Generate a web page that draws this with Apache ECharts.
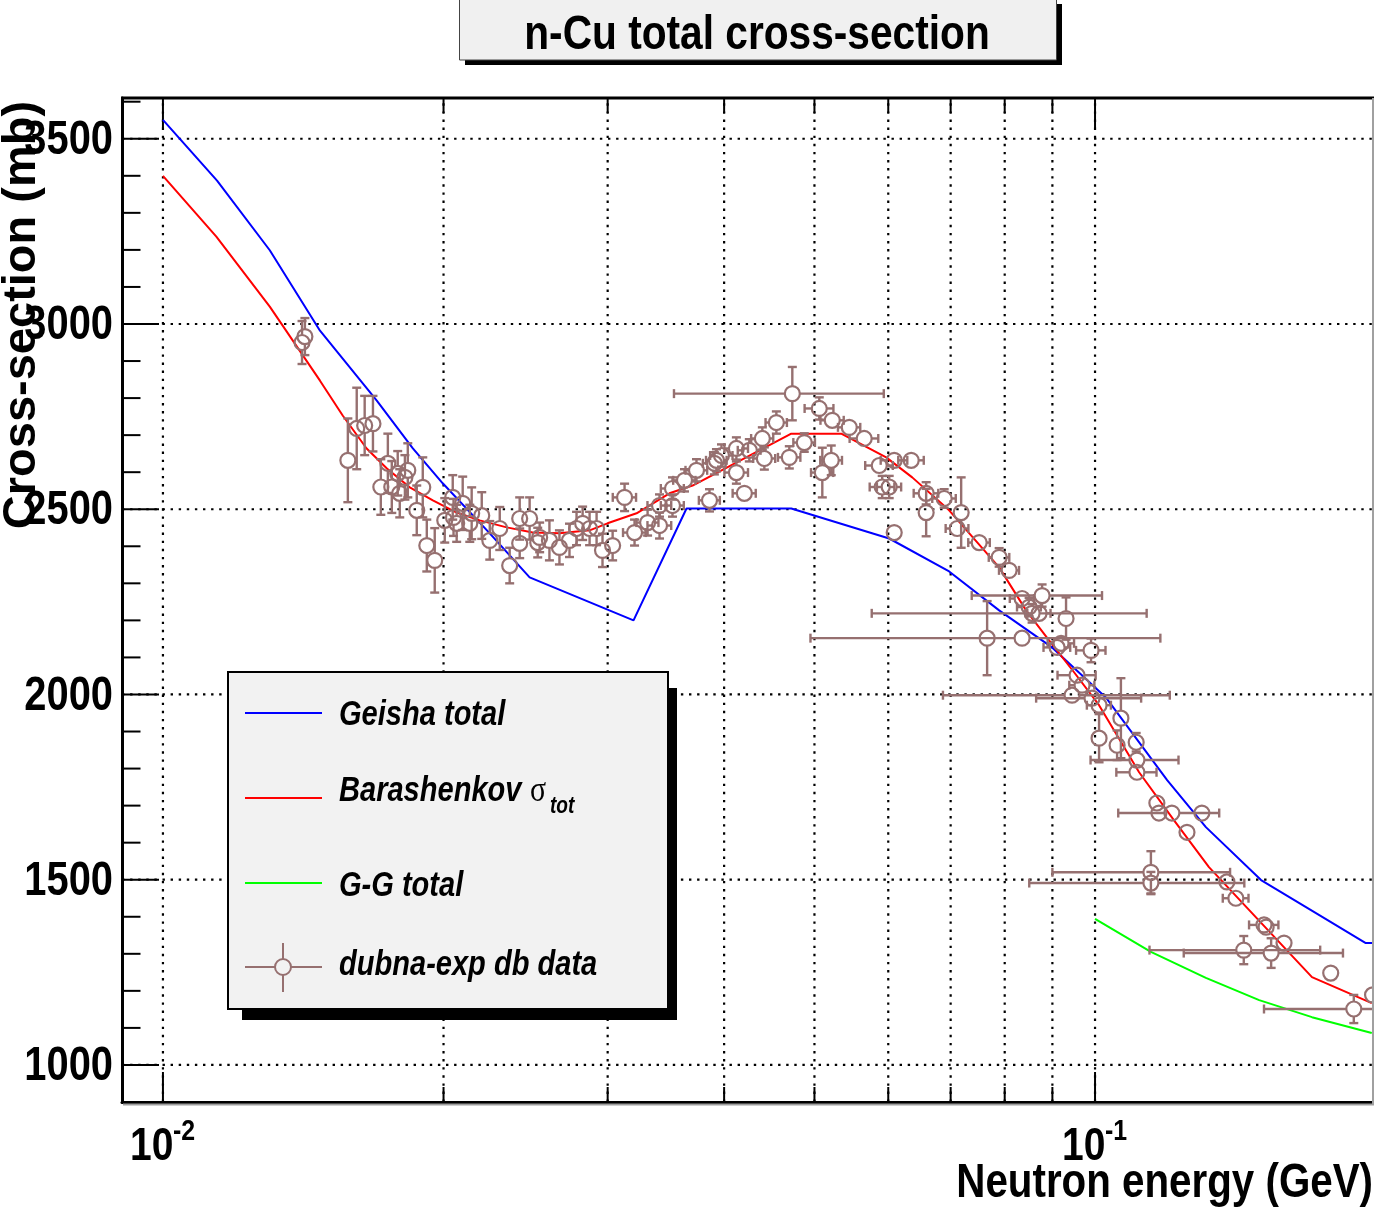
<!DOCTYPE html>
<html>
<head>
<meta charset="utf-8">
<title>n-Cu total cross-section</title>
<script src="https://cdn.jsdelivr.net/npm/echarts@6/dist/echarts.min.js"></script>
<style>
  html, body { margin: 0; padding: 0; background: #ffffff; }
  #main { width: 1374px; height: 1207px; }
</style>
</head>
<body>
<div id="main"></div>
<script>
// ---------- fonts ----------
const SANS = "'Liberation Sans', Arial, Helvetica, sans-serif";
const NARROW_X = 0.83;   // horizontal squeeze for the condensed Helvetica look

// ---------- axis ranges ----------
const X_MIN = 0.009038, X_MAX = 0.1992;   // GeV, logarithmic
const Y_MIN = 900, Y_MAX = 3610;          // mb

// ---------- ticks and tick labels ----------
const xGridTicks = [0.01, 0.02, 0.03, 0.04, 0.05, 0.06, 0.07, 0.08, 0.09, 0.1];
const xMajorTicks = [0.01, 0.1];
const xLabelExponents = ['-2', '-1'];
const yTicks = [900, 1000, 1100, 1200, 1300, 1400, 1500, 1600, 1700, 1800, 1900,
                2000, 2100, 2200, 2300, 2400, 2500, 2600, 2700, 2800, 2900,
                3000, 3100, 3200, 3300, 3400, 3500, 3600];
const yMajorTicks = [1000, 1500, 2000, 2500, 3000, 3500];
const yTickLabels = ['1000', '1500', '2000', '2500', '3000', '3500'];

// ---------- Geisha total ----------
const energyGeisha = [0.01, 0.01143, 0.01302, 0.01474, 0.01696, 0.01854, 0.01996, 0.02242,
  0.02474, 0.03198, 0.03645, 0.04722, 0.06014, 0.06974, 0.07891, 0.08993, 0.1027,
  0.1195, 0.1315, 0.1507, 0.1726, 0.1952, 0.1992];
const sigmaGeisha = [3551, 3387, 3199, 2982, 2793, 2664, 2570, 2435,
  2316, 2200, 2502, 2502, 2421, 2332, 2227, 2127, 1992,
  1769, 1642, 1499, 1410, 1329, 1329];

// ---------- Barashenkov sigma_tot ----------
const energyBarash = [0.01, 0.01141, 0.01302, 0.01474, 0.01559, 0.01654, 0.01739, 0.01840,
  0.01948, 0.02066, 0.02187, 0.02338, 0.02493, 0.02663, 0.02869, 0.02999, 0.03222,
  0.03495, 0.03700, 0.04722, 0.05342, 0.05970, 0.06366, 0.06974, 0.07891, 0.08434,
  0.08927, 0.09495, 0.1010, 0.1115, 0.1215, 0.1325, 0.1709, 0.1981];
const sigmaBarash = [3400, 3236, 3047, 2847, 2753, 2664, 2610, 2559,
  2524, 2491, 2470, 2451, 2437, 2435, 2443, 2462, 2489,
  2543, 2564, 2704, 2704, 2640, 2586, 2497, 2343, 2227,
  2146, 2060, 1971, 1790, 1661, 1534, 1237, 1167];

// ---------- G-G total ----------
const energyGG = [0.1, 0.1148, 0.1315, 0.150, 0.1709, 0.1981];
const sigmaGG = [1394, 1305, 1235, 1175, 1129, 1086];

// ---------- dubna-exp db data ----------
const dubnaE = [0.01410, 0.01420, 0.01579, 0.01614, 0.01646, 0.01680, 0.01713, 0.01743,
  0.01760, 0.01786, 0.01795, 0.01818, 0.01831, 0.01872, 0.01900, 0.01919, 0.01957,
  0.02006, 0.02046, 0.02050, 0.02066, 0.02097, 0.02134, 0.02144, 0.02198, 0.02242,
  0.02298, 0.02355, 0.02414, 0.02474, 0.02414, 0.02524, 0.02536, 0.02598, 0.02663,
  0.02730, 0.02778, 0.02820, 0.02869, 0.02919, 0.02962, 0.03037, 0.03128, 0.03206,
  0.03311, 0.03410, 0.03410, 0.03521, 0.03521, 0.03627, 0.03736, 0.03858, 0.03925,
  0.03974, 0.03905, 0.04123, 0.04257, 0.04396, 0.04551, 0.04123, 0.04205, 0.04418,
  0.04699, 0.04876, 0.04734, 0.05060, 0.05225, 0.05449, 0.05654, 0.05212, 0.05098,
  0.05868, 0.06089, 0.06350, 0.05911, 0.06014, 0.06089, 0.06589, 0.06589, 0.06889,
  0.07184, 0.07114, 0.07511, 0.07891, 0.08088, 0.08351, 0.08774, 0.08497, 0.08560,
  0.08709, 0.09309, 0.07660, 0.08351, 0.09195, 0.09105, 0.09902, 0.09565, 0.09684,
  0.09448, 0.09926, 0.1010, 0.1066, 0.1010, 0.1056, 0.1107, 0.1109, 0.1109, 0.1165,
  0.1171, 0.1209, 0.1302, 0.1255, 0.1148, 0.1148, 0.1385, 0.1416, 0.1518, 0.1526,
  0.1595, 0.1444, 0.1545, 0.1790, 0.1895, 0.1985];
const dubnaSigma = [2950, 2966, 2632, 2718, 2726, 2731, 2560, 2624,
  2560, 2597, 2543, 2586, 2605, 2497, 2559, 2402, 2362,
  2470, 2532, 2478, 2462, 2516, 2462, 2489, 2483, 2416,
  2448, 2348, 2475, 2475, 2408, 2410, 2424, 2416, 2397,
  2416, 2448, 2462, 2448, 2448, 2389, 2402, 2532, 2437,
  2464, 2456, 2510, 2510, 2556, 2578, 2605, 2524, 2632,
  2645, 2624, 2664, 2659, 2691, 2734, 2599, 2543, 2637,
  2640, 2680, 2812, 2772, 2740, 2721, 2691, 2632, 2599,
  2618, 2632, 2632, 2560, 2560, 2437, 2543, 2491, 2529,
  2491, 2448, 2410, 2370, 2335, 2259, 2267, 2236, 2219,
  2219, 2205, 2152, 2152, 2138, 2127, 2119, 2052, 2025,
  1998, 1990, 1971, 1936, 1882, 1863, 1871, 1823, 1790, 1707,
  1680, 1680, 1680, 1628, 1520, 1491, 1494, 1450, 1378, 1372,
  1329, 1310, 1302, 1248, 1151, 1189];
const dubnaErrSigma = [58, 50, 113, 110, 80, 75, 75, 80,
  70, 60, 65, 60, 73, 67, 81, 70, 87,
  60, 60, 50, 50, 72, 50, 70, 63, 52,
  58, 48, 57, 57, 40, 40, 40, 54, 46,
  45, 45, 45, 45, 45, 45, 40, 37, 35,
  35, 35, 30, 30, 30, 30, 30, 30, 30,
  30, 30, 30, 30, 30, 30, 30, 20, 30,
  30, 25, 72, 30, 20, 20, 20, 40, 67,
  20, 20, 20, 30, 30, 10, 30, 64, 25,
  95, 20, 20, 25, 20, 20, 30, 25, 25,
  20, 57, 100, 20, 20, 20, 32, 20, 20,
  20, 20, 20, 108, 65, 40, 25, 20, 20, 20,
  20, 20, 20, 15, 57, 30, 15, 20, 20, 15,
  15, 38, 40, 15, 38, 15];
const dubnaErrE = [0, 0, 0, 0, 0, 0, 0, 0,
  0, 0, 0, 0, 0, 0, 0, 0, 0,
  0, 0, 0, 0, 0, 0, 0, 0, 0,
  0, 0, 0, 0, 0, 0, 0, 0, 0,
  0, 0, 0, 0, 0, 0, 0, 0.0009, 0.0009,
  0.0009, 0.0010, 0.0010, 0.0010, 0.0010, 0.0010, 0.0010, 0.0010, 0.0010,
  0.0011, 0.0011, 0.0012, 0.0012, 0.0012, 0.0012, 0.0012, 0.0012, 0.0012,
  0.0013, 0.0013, 0.0120, 0.0018, 0.0015, 0.0015, 0.0020, 0.0014, 0.0014,
  0.0020, 0.0020, 0.0020, 0.0018, 0.0018, 0, 0.0020, 0, 0.0020,
  0, 0.0020, 0.0020, 0.0020, 0.0020, 0.0025, 0.0140, 0.0025, 0.0280,
  0.0025, 0, 0, 0.0340, 0.0030, 0.0030, 0.0036, 0.0045, 0.0030,
  0.0258, 0.0128, 0.0030, 0, 0, 0, 0, 0.0120, 0.0055, 0,
  0, 0.0150, 0, 0, 0.0248, 0.0298, 0, 0.0045, 0.0055, 0,
  0, 0.0300, 0.0300, 0, 0.0377, 0];

// ---------- colours ----------
const C_GEISHA = '#0000ff', C_BARASH = '#ff0000', C_GG = '#00ff00', C_DATA = '#967070';

const pairs = (xs, ys) => xs.map((x, i) => [x, ys[i]]);

const GRID_DASH = [2.4, 5.7];

// x-axis grid lines and ticks (bottom and top edges of the frame)
function renderXTick(params, api) {
  const v = api.value(0);
  const b = api.coord([v, Y_MIN]);
  const t = api.coord([v, Y_MAX]);
  const len = xMajorTicks.indexOf(v) >= 0 ? 30 : 15;
  return {
    type: 'group',
    children: [
      { type: 'line', shape: { x1: b[0], y1: b[1], x2: t[0], y2: t[1] },
        style: { stroke: '#000', lineWidth: 2.2, lineDash: GRID_DASH } },
      { type: 'line', shape: { x1: b[0], y1: b[1], x2: b[0], y2: b[1] - len },
        style: { stroke: '#000', lineWidth: 2 } },
      { type: 'line', shape: { x1: t[0], y1: t[1], x2: t[0], y2: t[1] + len },
        style: { stroke: '#000', lineWidth: 2 } }
    ]
  };
}

// y-axis grid lines and ticks (left edge)
function renderYTick(params, api) {
  const v = api.value(1);
  const l = api.coord([X_MIN, v]);
  const r = api.coord([X_MAX, v]);
  const major = yMajorTicks.indexOf(v) >= 0;
  const children = [
    { type: 'line', shape: { x1: l[0], y1: l[1], x2: l[0] + (major ? 37 : 18.5), y2: l[1] },
      style: { stroke: '#000', lineWidth: 2 } }
  ];
  if (major) {
    children.unshift({ type: 'line', shape: { x1: l[0], y1: l[1], x2: r[0], y2: r[1] },
      style: { stroke: '#000', lineWidth: 2.2, lineDash: GRID_DASH } });
  }
  return { type: 'group', children };
}

// "10" with a raised exponent under each decade tick
function renderXLabel(params, api) {
  const p = api.coord([api.value(0), Y_MIN]);
  const exp = xLabelExponents[params.dataIndex];
  return {
    type: 'group',
    children: [
      { type: 'text', x: p[0] - 33, y: p[1] + 45, scaleX: NARROW_X,
        style: { text: '10', font: 'bold 47px ' + SANS, fill: '#000', align: 'left', verticalAlign: 'middle' } },
      { type: 'text', x: p[0] + 10, y: p[1] + 30, scaleX: NARROW_X,
        style: { text: exp, font: 'bold 30px ' + SANS, fill: '#000', align: 'left', verticalAlign: 'middle' } }
    ]
  };
}

// value labels left of the frame
function renderYLabel(params, api) {
  const p = api.coord([X_MIN, api.value(1)]);
  return {
    type: 'text', x: p[0] - 9, y: p[1] + 2, scaleX: NARROW_X,
    style: { text: yTickLabels[params.dataIndex], font: 'bold 48px ' + SANS, fill: '#000',
             align: 'right', verticalAlign: 'middle' }
  };
}

// open circle with x/y error bars and end caps
const R = 7.5, CAP = 4.5;
function renderPoint(params, api) {
  const e = api.value(0), s = api.value(1), ds = api.value(2), de = api.value(3);
  const c = api.coord([e, s]);
  const up = api.coord([e, s + ds]), dn = api.coord([e, s - ds]);
  const lf = api.coord([Math.max(e - de, 1e-6), s]), rt = api.coord([e + de, s]);
  const st = { stroke: C_DATA, lineWidth: 2.4 };
  const kids = [];
  if (c[1] - up[1] > R) {
    kids.push({ type: 'line', shape: { x1: c[0], y1: c[1] - R, x2: c[0], y2: up[1] }, style: st });
    kids.push({ type: 'line', shape: { x1: c[0] - CAP, y1: up[1], x2: c[0] + CAP, y2: up[1] }, style: st });
  }
  if (dn[1] - c[1] > R) {
    kids.push({ type: 'line', shape: { x1: c[0], y1: c[1] + R, x2: c[0], y2: dn[1] }, style: st });
    kids.push({ type: 'line', shape: { x1: c[0] - CAP, y1: dn[1], x2: c[0] + CAP, y2: dn[1] }, style: st });
  }
  if (c[0] - lf[0] > R) {
    kids.push({ type: 'line', shape: { x1: c[0] - R, y1: c[1], x2: lf[0], y2: c[1] }, style: st });
    kids.push({ type: 'line', shape: { x1: lf[0], y1: c[1] - CAP, x2: lf[0], y2: c[1] + CAP }, style: st });
  }
  if (rt[0] - c[0] > R) {
    kids.push({ type: 'line', shape: { x1: c[0] + R, y1: c[1], x2: rt[0], y2: c[1] }, style: st });
    kids.push({ type: 'line', shape: { x1: rt[0], y1: c[1] - CAP, x2: rt[0], y2: c[1] + CAP }, style: st });
  }
  kids.push({ type: 'circle', shape: { cx: c[0], cy: c[1], r: R },
    style: { fill: 'rgba(0,0,0,0)', stroke: C_DATA, lineWidth: 2.2 } });
  return { type: 'group', children: kids };
}

const chart = echarts.init(document.getElementById('main'), null, { renderer: 'canvas' });

const legendFont = 'italic bold 35px ' + SANS;
const squeezed = (x, y, text, font, extra) => Object.assign({
  type: 'text', z: 62, x: x, y: y, scaleX: NARROW_X,
  style: { text: text, font: font, fill: '#000', verticalAlign: 'middle' }
}, extra || {});

chart.setOption({
  animation: false,
  backgroundColor: '#ffffff',
  grid: { left: 122, top: 98, width: 1252, height: 1004, containLabel: false, outerBoundsMode: 'none' },
  xAxis: {
    type: 'log', logBase: 10, min: X_MIN, max: X_MAX,
    axisLine: { show: true, lineStyle: { color: '#000', width: 3 } },
    axisTick: { show: false }, splitLine: { show: false }, minorTick: { show: false },
    axisLabel: { show: false }
  },
  yAxis: {
    type: 'value', min: Y_MIN, max: Y_MAX,
    axisLine: { show: true, lineStyle: { color: '#000', width: 3 } },
    axisTick: { show: false }, splitLine: { show: false },
    axisLabel: { show: false }
  },
  series: [
    { type: 'custom', name: 'x grid', z: 1, silent: true, clip: false,
      data: xGridTicks.map(v => [v, Y_MIN]), encode: { x: 0, y: 1 }, renderItem: renderXTick },
    { type: 'custom', name: 'y grid', z: 1, silent: true, clip: false,
      data: yTicks.map(v => [X_MIN, v]), encode: { x: 0, y: 1 }, renderItem: renderYTick },
    { type: 'custom', name: 'x labels', z: 5, silent: true, clip: false,
      data: xMajorTicks.map(v => [v, Y_MIN]), encode: { x: 0, y: 1 }, renderItem: renderXLabel },
    { type: 'custom', name: 'y labels', z: 5, silent: true, clip: false,
      data: yMajorTicks.map(v => [X_MIN, v]), encode: { x: 0, y: 1 }, renderItem: renderYLabel },
    { type: 'line', name: 'Geisha total', z: 3, data: pairs(energyGeisha, sigmaGeisha),
      showSymbol: false, lineStyle: { color: C_GEISHA, width: 2 }, itemStyle: { color: C_GEISHA } },
    { type: 'line', name: 'Barashenkov σtot', z: 3, data: pairs(energyBarash, sigmaBarash),
      showSymbol: false, lineStyle: { color: C_BARASH, width: 2 }, itemStyle: { color: C_BARASH } },
    { type: 'line', name: 'G-G total', z: 3, data: pairs(energyGG, sigmaGG),
      showSymbol: false, lineStyle: { color: C_GG, width: 2 }, itemStyle: { color: C_GG } },
    { type: 'custom', name: 'dubna-exp db data', z: 4, clip: true,
      data: dubnaE.map((e, i) => [e, dubnaSigma[i], dubnaErrSigma[i], dubnaErrE[i]]),
      encode: { x: 0, y: 1 }, renderItem: renderPoint }
  ],
  graphic: [
    // frame: top edge and grey bevel on right/bottom
    { type: 'line', z: 50, shape: { x1: 121, y1: 98, x2: 1374, y2: 98 }, style: { stroke: '#000', lineWidth: 3 } },
    { type: 'line', z: 50, shape: { x1: 1373, y1: 98, x2: 1373, y2: 1104 }, style: { stroke: '#a0a0a0', lineWidth: 2 } },
    { type: 'line', z: 50, shape: { x1: 123, y1: 1104.5, x2: 1374, y2: 1104.5 }, style: { stroke: '#a0a0a0', lineWidth: 2 } },

    // title box
    { type: 'rect', z: 50, shape: { x: 465, y: 4, width: 597, height: 61 }, style: { fill: '#000' } },
    { type: 'rect', z: 51, shape: { x: 459.5, y: -2, width: 597, height: 62 },
      style: { fill: '#f0f0f0', stroke: '#444', lineWidth: 1 } },
    { type: 'text', z: 52, x: 757, y: 35, scaleX: NARROW_X,
      style: { text: 'n-Cu total cross-section', font: 'bold 49px ' + SANS, fill: '#000',
               align: 'center', verticalAlign: 'middle' } },

    // axis titles
    { type: 'text', z: 52, x: 22, y: 315, rotation: Math.PI / 2,
      style: { text: 'Cross-section (mb)', font: 'bold 47px ' + SANS, fill: '#000',
               align: 'center', verticalAlign: 'middle' } },
    { type: 'text', z: 52, x: 1373, y: 1184, scaleX: 0.84,
      style: { text: 'Neutron energy (GeV)', font: 'bold 48px ' + SANS, fill: '#000',
               align: 'right', verticalAlign: 'middle' } },

    // legend
    { type: 'rect', z: 60, shape: { x: 242, y: 688, width: 435, height: 332 }, style: { fill: '#000' } },
    { type: 'rect', z: 61, shape: { x: 228, y: 672, width: 440, height: 337 },
      style: { fill: '#f2f2f2', stroke: '#000', lineWidth: 2 } },
    { type: 'line', z: 62, shape: { x1: 245, y1: 713, x2: 322, y2: 713 }, style: { stroke: C_GEISHA, lineWidth: 2 } },
    squeezed(339, 715, 'Geisha total', legendFont),
    { type: 'line', z: 62, shape: { x1: 245, y1: 798, x2: 322, y2: 798 }, style: { stroke: C_BARASH, lineWidth: 2 } },
    squeezed(339, 791, 'Barashenkov', legendFont),
    squeezed(530, 792, 'σ', '36px "Liberation Serif", serif'),
    squeezed(550, 807, 'tot', 'italic bold 23px ' + SANS),
    { type: 'line', z: 62, shape: { x1: 245, y1: 883, x2: 322, y2: 883 }, style: { stroke: C_GG, lineWidth: 2 } },
    squeezed(339, 886, 'G-G total', legendFont),
    { type: 'line', z: 62, shape: { x1: 245, y1: 967, x2: 275, y2: 967 }, style: { stroke: C_DATA, lineWidth: 2 } },
    { type: 'line', z: 62, shape: { x1: 291, y1: 967, x2: 322, y2: 967 }, style: { stroke: C_DATA, lineWidth: 2 } },
    { type: 'line', z: 62, shape: { x1: 283, y1: 943, x2: 283, y2: 959 }, style: { stroke: C_DATA, lineWidth: 2 } },
    { type: 'line', z: 62, shape: { x1: 283, y1: 975, x2: 283, y2: 992 }, style: { stroke: C_DATA, lineWidth: 2 } },
    { type: 'circle', z: 62, shape: { cx: 283, cy: 967, r: 8 }, style: { fill: 'rgba(0,0,0,0)', stroke: C_DATA, lineWidth: 2 } },
    squeezed(339, 965, 'dubna-exp db data', legendFont)
  ]
});
</script>
</body>
</html>
